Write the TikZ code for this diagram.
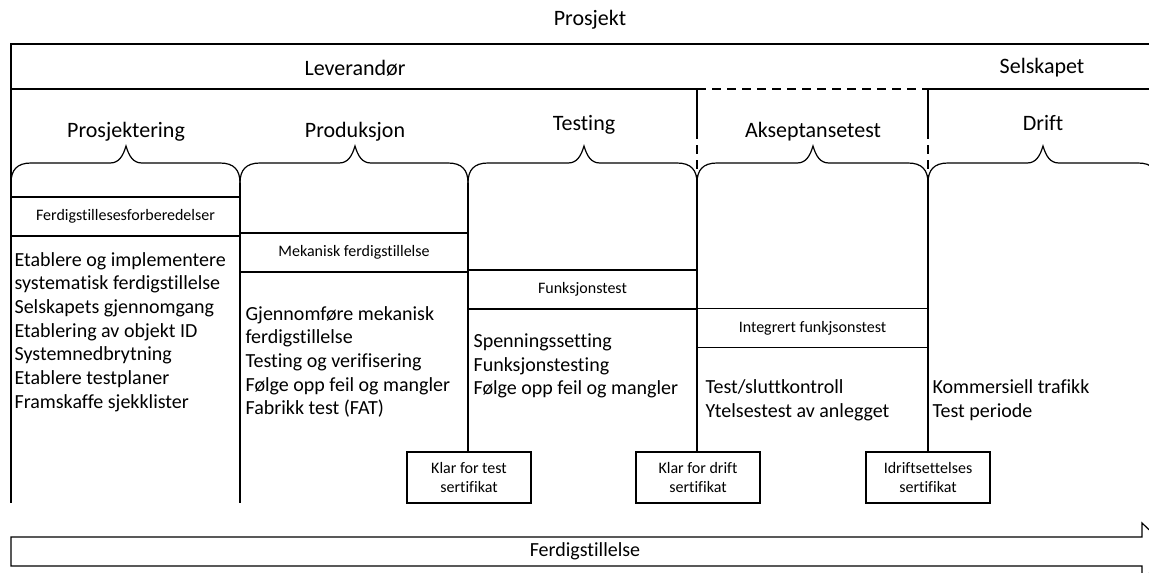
\documentclass[tikz,border=0pt]{standalone}
\usepackage{fontspec}
\setmainfont{Carlito}[Ligatures=NoCommon]
\usetikzlibrary{positioning}

\tikzset{
  tittel/.style={font=\fontsize{22}{26}\selectfont},
  fase/.style={font=\fontsize{22}{26}\selectfont},
  liste/.style={anchor=west, align=left, inner sep=0pt, font=\fontsize{20}{23.7}\selectfont},
  delboks/.style={draw, minimum height=39pt, inner sep=0pt, font=\fontsize{16}{19}\selectfont},
  sertboks/.style={draw, fill=white, minimum width=124pt, minimum height=51pt, align=center, inner sep=0pt, font=\fontsize{16}{19}\selectfont},
  strek/.style={dash pattern=on 9pt off 6pt}
}

\begin{document}
\begin{tikzpicture}[x=1pt, y=-1pt, line width=1.2pt]

  \clip (0,0) rectangle (1149,573);

  % overskrifter
  \node[tittel] (prosjekt) at (590,20) {Prosjekt};
  \node[tittel] (leverandor) at (355,68) {Leverandør};
  \node[tittel] (selskapet) at (1042,68) {Selskapet};

  \draw (1165,44) -- (11,44) -- (11,503);
  \draw (11,89) -- (697,89);
  \draw[strek] (697,89) -- (928,89);
  \draw (928,89) -- (1165,89);

  % faser med klammer
  \node[fase] (prosjektering) at (126,132) {Prosjektering};
  \node[fase] (produksjon) at (355,132) {Produksjon};
  \node[fase] (testing) at (584,125) {Testing};
  \node[fase] (aksept) at (813,132) {Akseptansetest};
  \node[fase] (drift) at (1043,123) {Drift};

  \foreach \l/\m/\r in {11/126/240, 240/355/468, 468/584/697, 697/813/928, 928/1043/1158}
    \draw (\l,183) .. controls (\l,170) and (\l+6,163) .. (\l+20,163) -- (\m-16,163)
          .. controls (\m-7,163) and (\m-3,156) .. (\m,146)
          .. controls (\m+3,156) and (\m+7,163) .. (\m+16,163) -- (\r-20,163)
          .. controls (\r-6,163) and (\r,170) .. (\r,183);

  \coordinate (k2) at (240,183);
  \coordinate (k3) at (468,183);
  \coordinate (k4) at (697,183);
  \coordinate (k5) at (928,183);

  \draw (697,89) -- (697,130);
  \draw[strek] (697,130) -- (k4);
  \draw (928,89) -- (928,130);
  \draw[strek] (928,130) -- (k5);

  % delaktiviteter
  \node[delboks, minimum width=229pt] (forb) at (125.5,216.5) {Ferdigstillesesforberedelser};
  \node[delboks, minimum width=228pt] (mek) at (354,252.5) {Mekanisk ferdigstillelse};
  \node[delboks, minimum width=229pt] (funk) at (582.5,289.5) {Funksjonstest};
  \node[delboks, minimum width=231pt] (integ) at (812.5,328) {Integrert funkjsonstest};

  \node[liste] (liste1) at (14,332) {Etablere og implementere\\systematisk ferdigstillelse\\Selskapets gjennomgang\\Etablering av objekt ID\\Systemnedbrytning\\Etablere testplaner\\Framskaffe sjekklister};
  \node[liste] (liste2) at (245,362) {Gjennomføre mekanisk\\ferdigstillelse\\Testing og verifisering\\Følge opp feil og mangler\\Fabrikk test (FAT)};
  \node[liste] (liste3) at (473,366) {Spenningssetting\\Funksjonstesting\\Følge opp feil og mangler};
  \node[liste] (liste4) at (705,400) {Test/sluttkontroll\\Ytelsestest av anlegget};
  \node[liste] (liste5) at (932,400) {Kommersiell trafikk\\Test periode};

  % sertifikater
  \node[sertboks] (klartest) at (469,477.5) {Klar for test\\sertifikat};
  \node[sertboks] (klardrift) at (698,477.5) {Klar for drift\\sertifikat};
  \node[sertboks] (idrift) at (928,477.5) {Idriftsettelses\\sertifikat};

  \draw (k2) -- (240,503);
  \draw (k3) -- (klartest.north -| k3);
  \draw (k4) -- (klardrift.north -| k4);
  \draw (k5) -- (idrift.north -| k5);

  % ferdigstillelse
  \draw (11,537) -- (1142,537) -- (1142,523) -- (1172,551.5) -- (1142,580) -- (1142,566) -- (11,566) -- cycle;
  \node[tittel, font=\fontsize{20}{24}\selectfont] (ferdig) at (585,551.5) {Ferdigstillelse};

\end{tikzpicture}
\end{document}
